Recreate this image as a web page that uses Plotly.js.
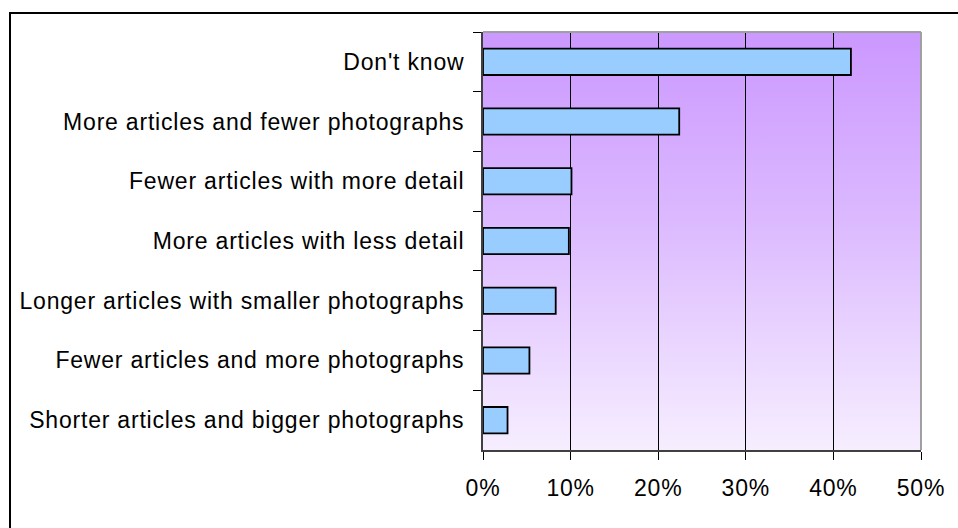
<!DOCTYPE html>
<html>
<head>
<meta charset="utf-8">
<script src="https://cdn.plot.ly/plotly-3.0.1.min.js"></script>
<style>
  html, body { margin: 0; padding: 0; background: #ffffff; }
  #wrap { position: relative; width: 958px; height: 528px; overflow: hidden; }
  #chart { position: absolute; left: 0; top: 0; width: 958px; height: 528px; }
  #frame { position: absolute; left: 9px; top: 12px; width: 1000px; height: 600px;
           border-left: 2px solid #000; border-top: 2px solid #000; pointer-events: none; }
  #chart .ytick text, #chart .xtick text { letter-spacing: 0.8px; }
</style>
</head>
<body>
<div id="wrap">
  <div id="chart"></div>
  <div id="frame"></div>
</div>
<script>
// Categories, top to bottom as shown
var categories = [
  "Don't know",
  "More articles and fewer photographs",
  "Fewer articles with more detail",
  "More articles with less detail",
  "Longer articles with smaller photographs",
  "Fewer articles and more photographs",
  "Shorter articles and bigger photographs"
];
// Share of respondents (%)
var values = [42.0, 22.4, 10.1, 9.8, 8.3, 5.3, 2.8];
// X-axis ticks
var xTickValues = [0, 10, 20, 30, 40, 50];
var xTickLabels = ["0%", "10%", "20%", "30%", "40%", "50%"];

var gradSvg = '<svg xmlns="http://www.w3.org/2000/svg" width="100" height="100" preserveAspectRatio="none">' +
  '<defs><linearGradient id="g" x1="0" y1="0" x2="0" y2="1">' +
  '<stop offset="0" stop-color="#cb98ff"/>' +
  '<stop offset="0.45" stop-color="#dcb9ff"/>' +
  '<stop offset="1" stop-color="#f6eeff"/>' +
  '</linearGradient></defs><rect width="100" height="100" fill="url(#g)"/></svg>';
var gradUri = 'data:image/svg+xml;charset=utf-8,' + encodeURIComponent(gradSvg);

var trace = {
  type: 'bar',
  orientation: 'h',
  y: categories,
  x: values,
  marker: { color: '#99ccff', line: { color: '#000000', width: 1.8 } },
  hoverinfo: 'x+y'
};

var layout = {
  width: 958,
  height: 528,
  margin: { l: 483, r: 37, t: 32, b: 78, pad: 0 },
  paper_bgcolor: '#ffffff',
  plot_bgcolor: 'rgba(0,0,0,0)',
  font: { family: 'Liberation Sans, Arial, sans-serif', size: 23, color: '#000000' },
  showlegend: false,
  bargap: 0.56,
  xaxis: {
    range: [0, 50],
    tickvals: xTickValues,
    ticktext: xTickLabels,
    showgrid: true,
    gridcolor: '#000000',
    gridwidth: 1,
    zeroline: false,
    showline: true,
    linecolor: '#404040',
    linewidth: 2,
    ticks: 'outside',
    ticklen: 8,
    tickwidth: 1,
    tickcolor: '#000000',
    ticklabelstandoff: 8,
    tickfont: { size: 23 },
    fixedrange: true
  },
  yaxis: {
    type: 'category',
    autorange: 'reversed',
    showgrid: false,
    zeroline: false,
    showline: true,
    linecolor: '#404040',
    linewidth: 2,
    ticks: 'outside',
    tickson: 'boundaries',
    ticklen: 8,
    tickwidth: 1,
    tickcolor: '#000000',
    ticklabelstandoff: 12,
    tickfont: { size: 23 },
    fixedrange: true
  },
  images: [{
    source: gradUri,
    xref: 'paper', yref: 'paper',
    x: 0, y: 1, sizex: 1, sizey: 1,
    xanchor: 'left', yanchor: 'top',
    sizing: 'stretch',
    layer: 'below'
  }],
  shapes: [
    { type: 'line', xref: 'paper', yref: 'paper', x0: 1, x1: 1, y0: 0, y1: 1,
      line: { color: '#a0a0a0', width: 2 }, layer: 'above' },
    { type: 'line', xref: 'paper', yref: 'paper', x0: 0, x1: 1, y0: 1, y1: 1,
      line: { color: '#a0a0a0', width: 2 }, layer: 'above' }
  ]
};

Plotly.newPlot('chart', [trace], layout, { displayModeBar: false, staticPlot: true });
</script>
</body>
</html>
